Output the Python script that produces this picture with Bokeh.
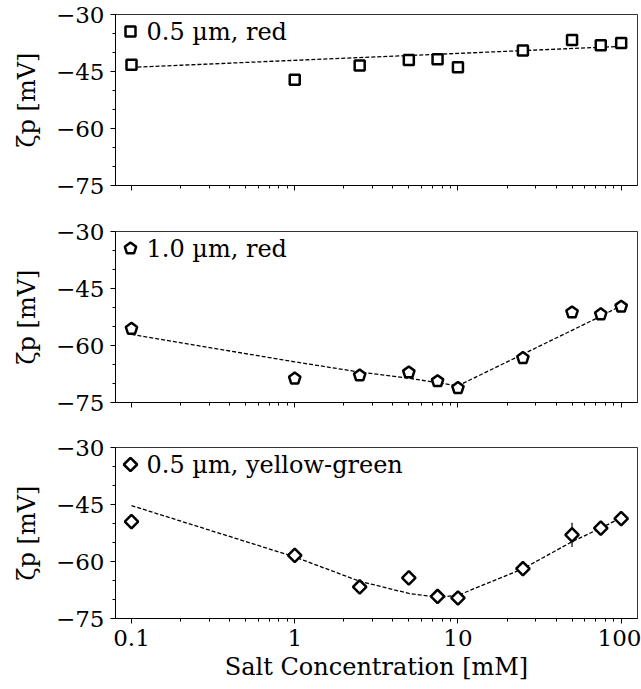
import math
from bokeh.plotting import figure
from bokeh.layouts import column
from bokeh.models import FixedTicker, CustomJSTickFormatter, ColumnDataSource, Range1d, LinearScale
from bokeh.core.properties import value
from bokeh.embed import file_html
from bokeh.resources import INLINE

# ---------------- data ----------------
salt = [0.1, 1, 2.5, 5, 7.5, 10, 25, 50, 75, 100]

zeta_05_red = [-43.2, -47.2, -43.4, -42.0, -41.8, -43.9, -39.5, -36.7, -38.1, -37.5]
err_05_red = [0, 0, 0, 0, 0, 0, 0, 0, 0, 0]
fit_05_red_x = [0.1, 100]
fit_05_red_y = [-43.9, -38.4]

zeta_10_red = [-55.6, -68.7, -67.9, -67.1, -69.4, -71.2, -63.3, -51.3, -51.8, -49.8]
err_10_red = [0, 0, 0, 0, 0, 0, 0, 0, 0, 0]
fit_10_red_x = [0.1, 1, 2.5, 5, 7.5, 10, 25, 50, 75, 100]
fit_10_red_y = [-57.1, -64.3, -67.0, -68.6, -69.8, -70.6, -62.3, -56.0, -52.3, -49.5]

zeta_05_yg = [-49.5, -58.4, -66.7, -64.3, -69.2, -69.6, -61.9, -53.0, -51.2, -48.7]
err_05_yg = [0, 0, 0, 0, 0, 0, 0, 3.2, 0, 0]
fit_05_yg_x = [0.1, 1, 2.5, 5, 7.5, 10, 25, 50, 75, 100]
fit_05_yg_y = [-45.3, -58.8, -65.2, -68.4, -69.4, -68.9, -61.9, -54.8, -51.2, -48.5]

labels = ["0.5 µm, red", "1.0 µm, red", "0.5 µm, yellow-green"]
markers = ["square", "pentagon", "diamond"]

y_ticks = [-75, -60, -45, -30]
y_minor = [-70, -65, -55, -50, -40, -35]
x_ticks = [0.1, 1, 10, 100]
x_tick_labels = ["0.1", "1", "10", "100"]

# ---------------- styling ----------------
FONT = "DejaVu Serif"
W = 641
LEFT, RIGHT = 115, 4
FW = W - LEFT - RIGHT      # frame width in px
FH = 171                   # frame height in px
XR = (10 ** -1.098, 10 ** 2.1)
YR = (-75, -30)

x_minor = []
for d in [0.1, 1, 10]:
    for k in range(2, 10):
        x_minor.append(d * k)


def draw_marker(p, kind, src, **kw):
    common = dict(fill_color="white", line_color="black", line_width=2.5)
    if kind == "square":
        return p.scatter("x", "y", source=src, marker="square", size=10, **common, **kw)
    if kind == "diamond":
        return p.scatter("x", "y", source=src, marker="square", size=9.5,
                         angle=math.pi / 4, **common, **kw)
    return p.ngon("x", "y", source=src, radius=6, radius_units="screen", n=5,
                  angle=0, **common, **kw)


def make_panel(idx, x, y, err, fx, fy, top, bottom, height, show_x, leg_dy):
    p = figure(width=W, height=height, x_axis_type="log", x_range=XR, y_range=YR,
               output_backend="svg", toolbar_location=None,
               min_border_left=LEFT, min_border_right=RIGHT,
               min_border_top=top, min_border_bottom=bottom)
    p.extra_x_ranges = {"px": Range1d(0, FW)}
    p.extra_y_ranges = {"px": Range1d(0, FH)}
    p.extra_x_scales = {"px": LinearScale()}
    p.extra_y_scales = {"px": LinearScale()}
    p.grid.visible = False
    p.outline_line_color = "black"
    p.outline_line_width = 1
    p.outline_line_alpha = 0.8
    p.background_fill_color = "white"
    p.border_fill_color = "white"

    # axes
    p.yaxis.ticker = FixedTicker(ticks=y_ticks, minor_ticks=y_minor)
    p.xaxis.ticker = FixedTicker(ticks=x_ticks, minor_ticks=x_minor)
    if show_x:
        p.xaxis.formatter = CustomJSTickFormatter(
            args=dict(t=x_ticks, l=x_tick_labels),
            code="for (let i = 0; i < t.length; i++) { if (Math.abs(Math.log10(tick) - Math.log10(t[i])) < 1e-6) return l[i]; } return '';")
    else:
        p.xaxis.formatter = CustomJSTickFormatter(code="return '';")
    for ax in (p.xaxis, p.yaxis):
        ax.axis_line_color = "black"
        ax.major_tick_line_color = "black"
        ax.minor_tick_line_color = "black"
        ax.major_tick_in = 0
        ax.major_tick_out = 5
        ax.minor_tick_in = 0
        ax.minor_tick_out = 3
        ax.major_label_text_font = FONT
        ax.major_label_text_font_size = "23px"
        ax.major_label_text_color = "black"
        ax.axis_label_text_font = FONT
        ax.axis_label_text_font_size = "24px"
        ax.axis_label_text_font_style = "normal"
        ax.axis_label_text_color = "black"
    p.yaxis.major_label_standoff = 6
    p.yaxis.axis_label = "ζp [mV]"
    p.yaxis.axis_label_standoff = 12
    if show_x:
        p.xaxis.axis_label = "Salt Concentration [mM]"
        p.xaxis.major_label_standoff = 6
        p.xaxis.axis_label_standoff = 4
    else:
        p.xaxis.major_label_standoff = 0

    # fit line
    p.line(fx, fy, line_color="black", line_width=1.3, line_dash="4 2")

    # error bars
    lo = [v - e for v, e in zip(y, err)]
    hi = [v + e for v, e in zip(y, err)]
    p.segment(x0=x, y0=lo, x1=x, y1=hi, line_color="black", line_width=1.2)

    # data markers
    draw_marker(p, markers[idx], ColumnDataSource(dict(x=x, y=y)))

    # legend (placed in frame pixel coordinates)
    lsrc = ColumnDataSource(dict(x=[15], y=[FH - leg_dy]))
    draw_marker(p, markers[idx], lsrc, x_range_name="px", y_range_name="px")
    p.text(x=[31], y=[FH - leg_dy], text=[labels[idx]], x_range_name="px", y_range_name="px",
           text_font=value(FONT), text_font_size="24px", text_color="black",
           text_baseline="middle", text_align="left")
    return p


p1 = make_panel(0, salt, zeta_05_red, err_05_red, fit_05_red_x, fit_05_red_y, 14, 23, 208, False, 17)
p2 = make_panel(1, salt, zeta_10_red, err_10_red, fit_10_red_x, fit_10_red_y, 23, 23, 217, False, 17)
p3 = make_panel(2, salt, zeta_05_yg, err_05_yg, fit_05_yg_x, fit_05_yg_y, 22, 70, 263, True, 17)

layout = column(p1, p2, p3)
open("out.html", "w").write(file_html(layout, INLINE))
